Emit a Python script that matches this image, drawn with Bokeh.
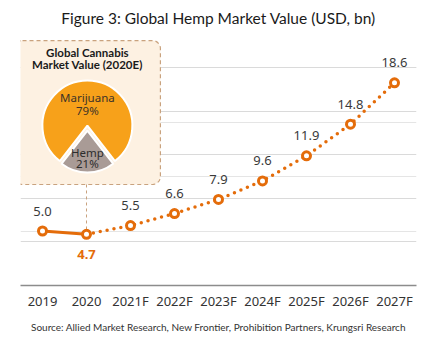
from bokeh.plotting import figure
from bokeh.models import Range1d, FixedTicker, Grid, BoxAnnotation, Title
from bokeh.core.properties import value
from bokeh.embed import file_html
from bokeh.resources import INLINE
import math

# ---- data ----
years = ["2019", "2020", "2021F", "2022F", "2023F", "2024F", "2025F", "2026F", "2027F"]
values = [5.0, 4.7, 5.5, 6.6, 7.9, 9.6, 11.9, 14.8, 18.6]
grid_ticks = [4, 8, 12, 16, 20]
pie_labels = ["Marijuana", "Hemp"]
pie_shares = [79, 21]
title_text = "Figure 3: Global Hemp Market Value (USD, bn)"
source_text = "Source: Allied Market Research, New Frontier, Prohibition Partners, Krungsri Research"
inset_title = ["Global Cannabis", "Market Value (2020E)"]

ORANGE = "#E46C0A"
MARI = "#F7A11A"
HEMP = "#A99B96"
BOXLINE = "#C9A27E"

p = figure(width=435, height=350, x_range=years, y_range=Range1d(0, 23.4),
           output_backend="svg", toolbar_location=None, y_axis_location=None,
           min_border_left=20, min_border_right=19, min_border_top=30, min_border_bottom=65)
p.outline_line_color = None
p.xgrid.visible = False

grid = Grid(dimension=1, ticker=FixedTicker(ticks=grid_ticks), grid_line_color="#DADADA", grid_line_width=1)
p.add_layout(grid, "center")

p.title.text = title_text
p.title.align = "center"
p.title.vertical_align = "middle"
p.title.text_font = "Lato"
p.title.text_font_size = "15.5px"
p.title.text_font_style = "normal"
p.title.text_color = "#1a1a1a"
p.title.standoff = 6

p.add_layout(Title(text=source_text, align="center", text_font="Lato", text_font_size="10px",
                   text_font_style="normal", text_color="#333333", standoff=12), "below")

ax = p.xaxis[0]
ax.axis_line_color = "#8C8C8C"
ax.axis_line_width = 1.5
ax.major_tick_line_color = None
ax.minor_tick_line_color = None
ax.major_tick_out = 0
ax.major_tick_in = 0
ax.major_label_text_font = "Noto Sans"
ax.major_label_text_font_size = "13px"
ax.major_label_text_color = "#333333"
ax.major_label_standoff = 6

# inset box
box = BoxAnnotation(left=-0.136, right=3.18, bottom=9.27, top=22.48,
                    fill_color="#FDF1E2", fill_alpha=1, line_color=BOXLINE, line_alpha=1,
                    line_dash="4 3", line_width=1.2, border_radius=8, level="underlay")
p.add_layout(box)

# connector
p.segment(x0=[1.5], y0=[9.27], x1=[1.5], y1=[values[1]], line_color=BOXLINE, line_dash="3 3", line_width=1)

# lines
p.line(x=years[:2], y=values[:2], line_color=ORANGE, line_width=3)
p.line(x=years[1:], y=values[1:], line_color=ORANGE, line_width=3.5, line_dash="0 7", line_cap="round")
p.scatter(x=years, y=values, size=8, fill_color="white", line_color=ORANGE, line_width=3)

labels = [f"{v:.1f}" for v in values]
up_idx = [i for i in range(len(years)) if i != 1]
p.text(x=[years[i] for i in up_idx], y=[values[i] for i in up_idx], text=[labels[i] for i in up_idx],
       text_align="center", text_baseline="middle", y_offset=-20,
       text_font=value("Noto Sans"), text_font_size="13px", text_color="#3a3a3a")
p.text(x=[years[1]], y=[values[1]], text=[labels[1]], text_align="center", text_baseline="middle",
       y_offset=20, text_font=value("Noto Sans"), text_font_size="13px", text_font_style="bold",
       text_color=ORANGE)

# pie
cx, cy = 1.52, 14.68
half = pie_shares[1] / 100 * math.pi
p.wedge(x=[cx], y=[cy], radius=45, radius_units="screen",
        start_angle=[-math.pi / 2 + half], end_angle=[-math.pi / 2 - half + 2 * math.pi],
        fill_color=MARI, line_color="white", line_width=2)
p.wedge(x=[cx], y=[cy - 0.46], radius=42, radius_units="screen",
        start_angle=[-math.pi / 2 - half], end_angle=[-math.pi / 2 + half],
        fill_color=HEMP, line_color="white", line_width=2)

p.text(x=[cx, cx], y=[17.28, 16.06], text=[pie_labels[0], f"{pie_shares[0]}%"],
       text_align="center", text_baseline="middle", text_font=value("Noto Sans"),
       text_font_size="11.5px", text_color="#3d3328")
p.text(x=[cx, cx], y=[12.23, 11.19], text=[pie_labels[1], f"{pie_shares[1]}%"],
       text_align="center", text_baseline="middle", text_font=value("Noto Sans"),
       text_font_size="11.5px", text_color="#2d2d2d")

p.text(x=[cx, cx], y=[21.38, 20.28], text=inset_title, text_align="center", text_baseline="middle",
       text_font=value("Lato"), text_font_size="11.5px", text_font_style="bold", text_color="#1a1a1a")

open("out.html", "w").write(file_html(p, INLINE))
